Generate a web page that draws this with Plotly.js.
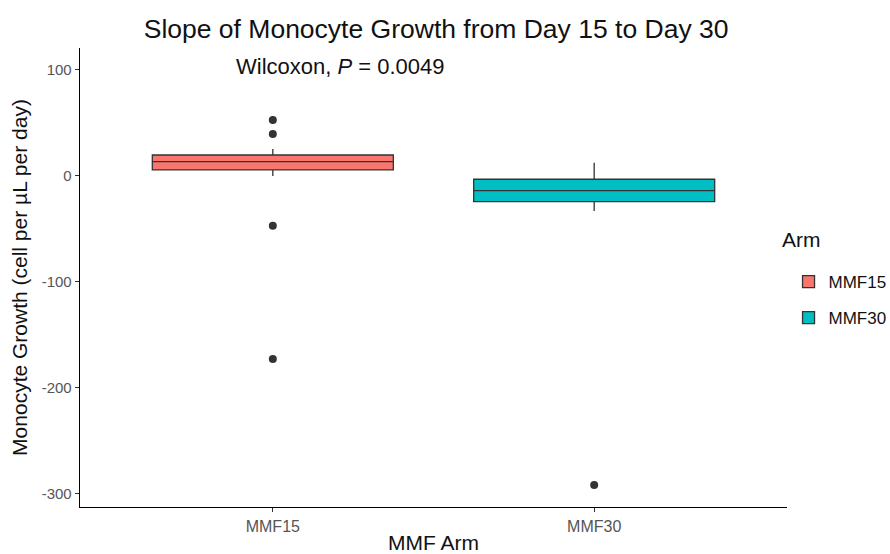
<!DOCTYPE html>
<html>
<head>
<meta charset="utf-8">
<script src="https://cdn.plot.ly/plotly-3.0.1.min.js"></script>
<style>html,body{margin:0;padding:0;background:#fff;}#chart{width:890px;height:554px;}</style>
</head>
<body>
<div id="chart"></div>
<script>
const arms = ['MMF15', 'MMF30'];
const q1 = [5.7, -24.2];
const medians = [13.5, -13.9];
const q3 = [19.8, -3.1];
const lowerWhisker = [0, -33];
const upperWhisker = [25.5, 12.5];
const outlierArm = ['MMF15', 'MMF15', 'MMF15', 'MMF15', 'MMF30'];
const outlierValue = [52.8, 39.6, -47, -172.6, -291.5];
const fillColors = ['#F8766D', '#00BFC4'];

const font = 'Liberation Sans, Arial, sans-serif';
const traces = arms.map((a, i) => ({
  type: 'box',
  name: a,
  legendgroup: a,
  x: [a],
  q1: [q1[i]],
  median: [medians[i]],
  q3: [q3[i]],
  lowerfence: [lowerWhisker[i]],
  upperfence: [upperWhisker[i]],
  fillcolor: fillColors[i],
  line: {color: '#333333', width: 1.3},
  width: 0.75,
  whiskerwidth: 0,
  boxpoints: false,
  hoverinfo: 'skip'
}));
traces.push({
  type: 'scatter',
  mode: 'markers',
  x: outlierArm,
  y: outlierValue,
  marker: {color: '#333333', size: 8},
  showlegend: false,
  hoverinfo: 'skip'
});

const layout = {
  width: 890, height: 554,
  paper_bgcolor: '#fff', plot_bgcolor: '#fff',
  margin: {l: 80, r: 103, t: 48, b: 47},
  font: {family: font, color: '#000'},
  boxmode: 'overlay',
  title: {text: 'Slope of Monocyte Growth from Day 15 to Day 30', x: 0.49, xanchor: 'center', y: 0.949, yanchor: 'middle', font: {size: 26.5, color: '#111'}},
  xaxis: {
    type: 'category', categoryorder: 'array', categoryarray: arms,
    range: [-0.6, 1.6],
    showline: true, linecolor: '#000', linewidth: 1.3,
    ticks: 'outside', ticklen: 4, tickcolor: '#333',
    showgrid: false, zeroline: false,
    tickfont: {size: 16, color: '#555'},
    title: {text: 'MMF Arm', font: {size: 21, color: '#111'}, standoff: 12}
  },
  yaxis: {
    range: [-312.3, 120.75],
    tickvals: [-300, -200, -100, 0, 100],
    ticktext: ['-300', '-200', '-100', '0', '100'],
    showline: true, linecolor: '#000', linewidth: 1.3,
    ticks: 'outside', ticklen: 4, tickcolor: '#333',
    showgrid: false, zeroline: false,
    tickfont: {size: 15, color: '#555'},
    title: {text: 'Monocyte Growth (cell per µL per day)', font: {size: 21, color: '#111'}, standoff: 8}
  },
  legend: {
    xref: 'container', yref: 'container',
    x: 0.886, xanchor: 'left', y: 0.5235, yanchor: 'top',
    font: {size: 17, color: '#111'},
    tracegroupgap: 11
  },
  annotations: [{
    text: 'Wilcoxon, <i>P</i> = 0.0049',
    xref: 'paper', yref: 'y', x: 0.368, y: 103,
    xanchor: 'center', yanchor: 'middle', showarrow: false,
    font: {size: 22, color: '#111'}
  }, {
    text: 'Arm',
    xref: 'paper', yref: 'paper', x: 0.99, y: 0.582,
    xanchor: 'left', yanchor: 'middle', showarrow: false,
    font: {size: 21, color: '#111'}
  }]
};
Plotly.newPlot('chart', traces, layout, {displayModeBar: false, staticPlot: true});
</script>
</body>
</html>
